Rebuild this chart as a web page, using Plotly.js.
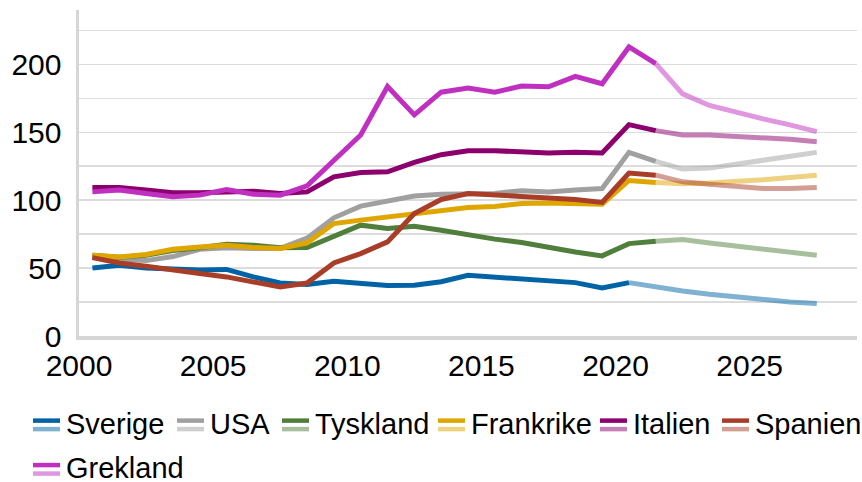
<!DOCTYPE html>
<html><head><meta charset="utf-8">
<script src="https://cdn.plot.ly/plotly-3.0.1.min.js"></script>
<style>html,body{margin:0;padding:0;background:#fff}</style>
</head><body><div id="chart" style="width:862px;height:482px"></div>
<script>
const years = [2000,2001,2002,2003,2004,2005,2006,2007,2008,2009,2010,2011,2012,2013,2014,2015,2016,2017,2018,2019,2020,2021,2022,2023,2024,2025,2026,2027];
const sverige   = [50.1,52,50,49,48.5,49,43.5,39,38,40.3,38.6,37.1,37.3,40,44.7,43.5,42.3,41,39.3,35.4,39.3,36,33.2,30.7,28.5,26.8,25,24];
const usa       = [58.5,56.5,55.5,58.5,63.8,65,64.5,64.5,72,87,95.6,99.3,103,104.4,105,105,107,106,107.4,108.6,135.2,128.6,122.9,123.6,126.6,129.8,132.7,135.2];
const tyskland  = [59.5,58,59.5,63,65,67.6,66.8,65,65.1,73,81.6,79.1,80.8,77.9,74.2,71.3,68.8,65.1,61.9,59,68,69.8,71,68.5,66.1,63.6,61.2,59.5];
const frankrike = [59.5,58.2,60,63.9,65.6,66.8,65.1,64.4,68.6,82.8,85.3,87.7,90.2,93.1,94.6,95.3,97.5,98,97.5,97,114.5,113,112,112.7,113.7,115,116.7,118.4];
const italien   = [109.3,109.3,107.4,105.4,105.4,106.1,106.6,104.9,106.1,117.2,120.4,120.9,127.8,133.5,136.4,136.4,135.7,134.7,135.2,134.7,155.6,151.2,148,148,147,146,144.8,143];
const spanien   = [57.7,53.8,51.4,48.4,46,43.5,39.8,36.1,39,53.8,60.7,69.3,90.2,100.5,104.9,103.7,103,102,100.5,98.3,120,118.4,113.5,111.8,109.8,108.6,108.6,109.3];
const grekland  = [106.1,107.4,104.9,102.5,103.7,107.9,104.4,103.7,110.6,129,148,183.7,162.8,179.5,182.5,179.5,184,183.5,191.1,185.7,212.8,200.5,178.3,169.7,164.3,159.8,155.4,150.5];

const names = ['Sverige','USA','Tyskland','Frankrike','Italien','Spanien','Grekland'];
const series = [sverige, usa, tyskland, frankrike, italien, spanien, grekland];
const lastActual = [2020,2021,2021,2021,2021,2021,2021];
const xTickVals = [2000,2005,2010,2015,2020,2025];
const yTickVals = [0,25,50,75,100,125,150,175,200,225];
const yTickText = ['0','','50','','100','','150','','200',''];

const darkColors = ['#0063a6','#a0a0a0','#507f3c','#e0a600','#8c006e','#a83e28','#c030c0'];
function light(hex){const r=parseInt(hex.substr(1,2),16),g=parseInt(hex.substr(3,2),16),b=parseInt(hex.substr(5,2),16);return `rgba(${r},${g},${b},0.5)`;}

const traces = [];
series.forEach((vals, k) => {
  const cut = years.indexOf(lastActual[k]);
  const xs = years.map(y => y + 0.5);
  traces.push({x: xs.slice(0, cut+1), y: vals.slice(0, cut+1), mode:'lines', name:names[k], showlegend:false,
    line:{color:darkColors[k], width:5}, hoverinfo:'skip'});
  traces.push({x: xs.slice(cut), y: vals.slice(cut), mode:'lines', name:names[k]+' prognos', showlegend:false,
    line:{color:light(darkColors[k]), width:5}, hoverinfo:'skip'});
});

// manual two-tone legend (layout pixels -> paper)
const L = 79, W = 778, B = 336.3, H = 326.3;
const px = v => (v - L) / W, py = v => (B - v) / H;
const legendPos = [[33,421],[177,421],[282,421],[438,421],[600,421],[722,421],[33,465.5]];
const shapes = [], annotations = [];
names.forEach((n, k) => {
  const [sx, sy] = legendPos[k];
  shapes.push({type:'line', xref:'paper', yref:'paper', x0:px(sx), x1:px(sx+27), y0:py(sy), y1:py(sy), line:{color:darkColors[k], width:4.5}});
  shapes.push({type:'line', xref:'paper', yref:'paper', x0:px(sx), x1:px(sx+27), y0:py(sy+8.5), y1:py(sy+8.5), line:{color:light(darkColors[k]), width:4.5}});
  annotations.push({xref:'paper', yref:'paper', x:px(sx+31), y:py(sy+3), xanchor:'left', yanchor:'middle', showarrow:false,
    text:n, font:{family:'Liberation Sans, Arial, sans-serif', size:29, color:'#000'}});
});

const layout = {
  width:862, height:482,
  margin:{l:79, r:5, t:10, b:146},
  paper_bgcolor:'#fff', plot_bgcolor:'#fff',
  font:{family:'Liberation Sans, Arial, sans-serif', color:'#000'},
  showlegend:false,
  xaxis:{range:[2000,2029], tickvals:xTickVals, showgrid:false, zeroline:false,
    showline:true, linecolor:'#d6d6d6', linewidth:3.5, ticks:'', tickfont:{size:30}, ticklabelstandoff:0},
  yaxis:{range:[0,240], tickvals:yTickVals, ticktext:yTickText, showgrid:true, gridcolor:'#dcdcdc', gridwidth:1.5,
    zeroline:false, showline:true, linecolor:'#d6d6d6', linewidth:3.5, ticks:'', tickfont:{size:30}, ticklabelstandoff:8},
  shapes, annotations
};
Plotly.newPlot('chart', traces, layout, {staticPlot:true, displayModeBar:false});
</script></body></html>
